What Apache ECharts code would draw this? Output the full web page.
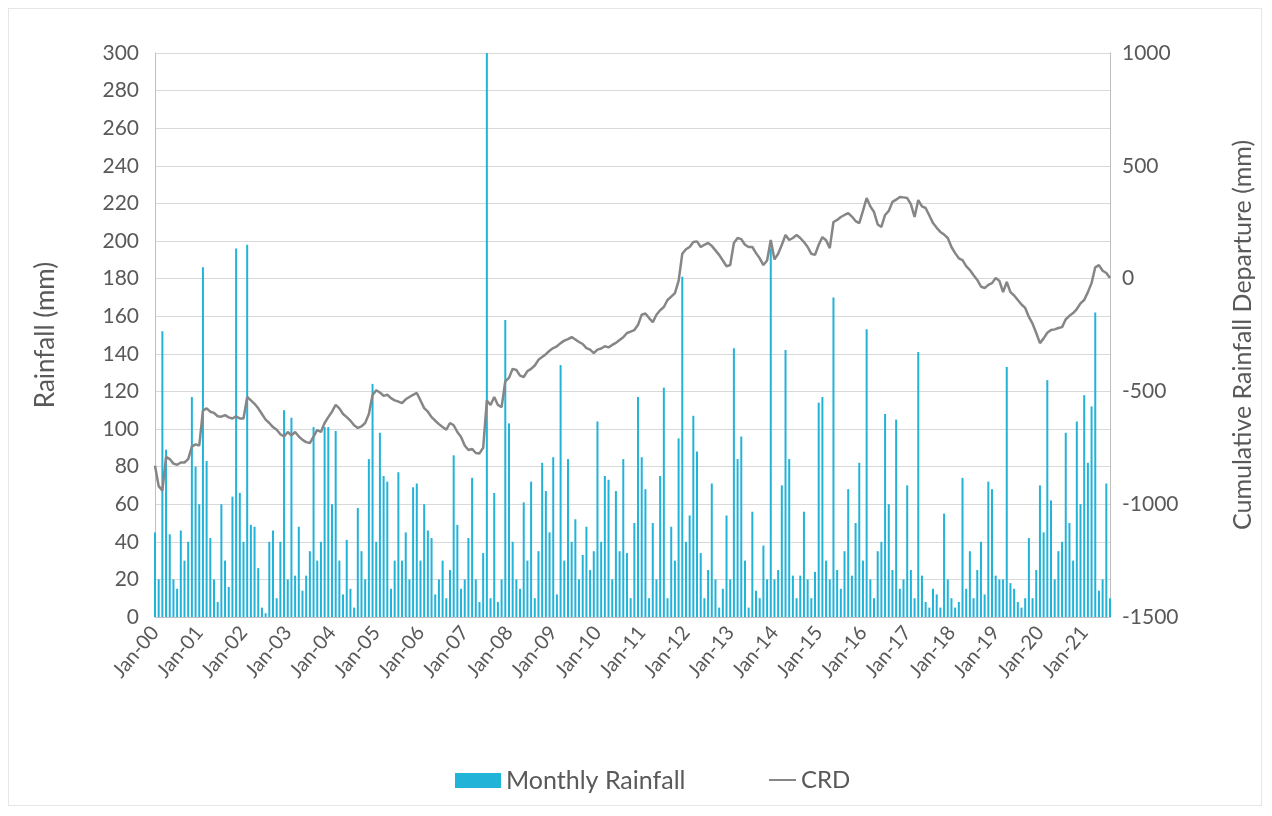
<!DOCTYPE html>
<html>
<head>
<meta charset="utf-8">
<style>
  html, body { margin: 0; padding: 0; background: #ffffff; }
  #frame { position: absolute; left: 8px; top: 8px; width: 1254px; height: 798px; border: 1px solid #e6e6e6; box-sizing: border-box; }
  #chart { position: absolute; left: 0; top: 0; width: 1272px; height: 816px; }
</style>
<script src="https://cdn.jsdelivr.net/npm/echarts@6/dist/echarts.min.js"></script>
</head>
<body>
<div id="frame"></div>
<div id="chart"></div>
<script>
// Monthly rainfall (mm), Jan 2000 – Aug 2021, one row per year
const rainfall = [
  45, 20, 152, 89, 44, 20, 15, 46, 30, 40, 117, 80,      // 2000
  60, 186, 83, 42, 20, 8, 60, 30, 16, 64, 196, 66,       // 2001
  40, 198, 49, 48, 26, 5, 2, 40, 46, 10, 40, 110,        // 2002
  20, 106, 22, 48, 14, 22, 35, 101, 30, 40, 101, 101,    // 2003
  60, 99, 30, 12, 41, 15, 5, 58, 35, 20, 84, 124,        // 2004
  40, 98, 75, 72, 15, 30, 77, 30, 45, 20, 69, 71,        // 2005
  30, 60, 46, 42, 12, 20, 30, 10, 25, 86, 49, 15,        // 2006
  20, 42, 74, 20, 8, 34, 300, 10, 66, 8, 20, 158,        // 2007
  103, 40, 20, 15, 61, 30, 72, 10, 35, 82, 67, 45,       // 2008
  85, 12, 134, 30, 84, 40, 52, 20, 33, 48, 25, 35,       // 2009
  104, 40, 75, 73, 20, 67, 35, 84, 34, 10, 50, 117,      // 2010
  85, 68, 10, 50, 20, 75, 122, 10, 48, 30, 95, 181,      // 2011
  40, 54, 107, 88, 34, 10, 25, 71, 20, 5, 15, 54,        // 2012
  20, 143, 84, 96, 30, 5, 56, 14, 10, 38, 20, 196,       // 2013
  20, 25, 70, 142, 84, 22, 10, 22, 56, 20, 10, 24,       // 2014
  114, 117, 30, 20, 170, 25, 15, 35, 68, 22, 50, 82,     // 2015
  30, 153, 20, 10, 35, 40, 108, 60, 25, 105, 15, 20,     // 2016
  70, 25, 10, 141, 22, 8, 5, 15, 12, 5, 55, 20,          // 2017
  10, 5, 8, 74, 15, 35, 10, 25, 40, 12, 72, 68,          // 2018
  22, 20, 20, 133, 18, 15, 8, 5, 10, 42, 10, 25,         // 2019
  70, 45, 126, 62, 20, 35, 40, 98, 50, 30, 104, 60,      // 2020
  118, 82, 112, 162, 14, 20, 71, 10                      // 2021
];

// Cumulative rainfall departure (mm), same months
const crd = [
  -830, -920, -940, -790, -800, -820, -825, -815, -815, -800, -745, -735,
  -740, -585, -575, -590, -595, -610, -612, -605, -615, -620, -610, -620,
  -620, -525, -540, -555, -575, -600, -625, -640, -658, -670, -690, -700,
  -680, -695, -680, -700, -715, -725, -729, -700, -671, -680, -640, -614,
  -590, -560, -575, -600, -614, -630, -650, -662, -655, -640, -600, -516,
  -495, -505, -520, -515, -530, -540, -545, -552, -535, -525, -515, -507,
  -540, -574, -590, -614, -630, -645, -658, -670, -640, -650, -680, -702,
  -740, -760, -755, -773, -775, -750, -540, -560, -525, -560, -570, -455,
  -440, -400, -405, -430, -436, -410, -400, -385, -360, -347, -335, -320,
  -308, -300, -286, -275, -268, -259, -270, -281, -290, -308, -315, -330,
  -315, -310, -300, -305, -294, -285, -272, -260, -241, -235, -228, -205,
  -160, -155, -175, -193, -160, -140, -126, -95, -80, -64, -10, 110,
  130, 140, 162, 165, 140, 150, 158, 145, 125, 105, 80, 55,
  60, 158, 180, 175, 150, 140, 140, 113, 90, 60, 80, 171,
  85, 110, 150, 193, 171, 180, 193, 180, 162, 140, 110, 105,
  150, 184, 170, 135, 251, 260, 273, 282, 290, 275, 255, 246,
  300, 357, 320, 295, 240, 229, 282, 300, 340, 350, 362, 360,
  357, 330, 273, 348, 320, 313, 280, 246, 225, 207, 195, 180,
  140, 113, 90, 82, 55, 38, 15, -6, -35, -42, -28, -20,
  3, -10, -60, -15, -60, -75, -95, -115, -130, -170, -200, -241,
  -286, -265, -240, -228, -225, -219, -215, -180, -165, -153, -135, -110,
  -95, -60, -20, 50, 60, 35, 25, 3
];

const monthNames = ['Jan', 'Feb', 'Mar', 'Apr', 'May', 'Jun', 'Jul', 'Aug', 'Sep', 'Oct', 'Nov', 'Dec'];
const firstYear = 2000;

// Month labels in the "Mon-YY" form
const months = rainfall.map((_, i) => {
  const y = firstYear + Math.floor(i / 12);
  return monthNames[i % 12] + '-' + String(y % 100).padStart(2, '0');
});

const textColor = '#595959';
const fontFamily = 'Lato, "Open Sans", sans-serif';

const chart = echarts.init(document.getElementById('chart'), null, { renderer: 'canvas' });

chart.setOption({
  backgroundColor: 'transparent',
  animation: false,
  textStyle: { fontFamily: fontFamily },
  grid: { left: 155, right: 162, top: 53, bottom: 199, containLabel: false },
  legend: [
    {
      data: [{ name: 'Monthly Rainfall', icon: 'rect' }],
      left: 450, top: 763,
      itemWidth: 46, itemHeight: 15, itemGap: 6,
      textStyle: { color: textColor, fontSize: 25, fontFamily: fontFamily }
    },
    {
      data: [{ name: 'CRD', icon: 'rect' }],
      left: 764, top: 763,
      itemWidth: 27, itemHeight: 2,
      textStyle: { color: textColor, fontSize: 24, fontFamily: fontFamily }
    }
  ],
  xAxis: {
    type: 'category',
    data: months,
    boundaryGap: false,
    axisLine: { show: true, lineStyle: { color: '#bfbfbf', width: 1 } },
    axisTick: { show: false },
    axisLabel: {
      interval: 11,
      rotate: 50,
      color: textColor,
      fontSize: 20,
      margin: 12,
      fontFamily: fontFamily
    },
    splitLine: { show: false }
  },
  yAxis: [
    {
      type: 'value',
      name: 'Rainfall (mm)',
      nameLocation: 'middle',
      nameGap: 96,
      nameTextStyle: { color: textColor, fontSize: 26, fontFamily: fontFamily },
      min: 0, max: 300, interval: 20,
      axisLine: { show: true, lineStyle: { color: '#bfbfbf', width: 1 } },
      axisTick: { show: false },
      axisLabel: { color: textColor, fontSize: 21, margin: 16, fontFamily: fontFamily },
      splitLine: { show: true, lineStyle: { color: '#d9d9d9', width: 1 } }
    },
    {
      type: 'value',
      name: 'Cumulative Rainfall Departure (mm)',
      nameLocation: 'middle',
      nameGap: 120,
      nameRotate: 90,
      nameTextStyle: { color: textColor, fontSize: 25, fontFamily: fontFamily },
      min: -1500, max: 1000, interval: 500,
      axisLine: { show: true, lineStyle: { color: '#bfbfbf', width: 1 } },
      axisTick: { show: false },
      axisLabel: {
        color: textColor, fontSize: 21, margin: 12, fontFamily: fontFamily,
        formatter: (v) => String(v)
      },
      splitLine: { show: false }
    }
  ],
  series: [
    {
      name: 'Monthly Rainfall',
      type: 'bar',
      yAxisIndex: 0,
      data: rainfall,
      barWidth: 2,
      itemStyle: { color: '#22b3d9' }
    },
    {
      name: 'CRD',
      type: 'line',
      yAxisIndex: 1,
      data: crd,
      symbol: 'none',
      lineStyle: { color: '#868686', width: 2.5 },
      itemStyle: { color: '#868686' },
      z: 3
    }
  ]
});
</script>
</body>
</html>
